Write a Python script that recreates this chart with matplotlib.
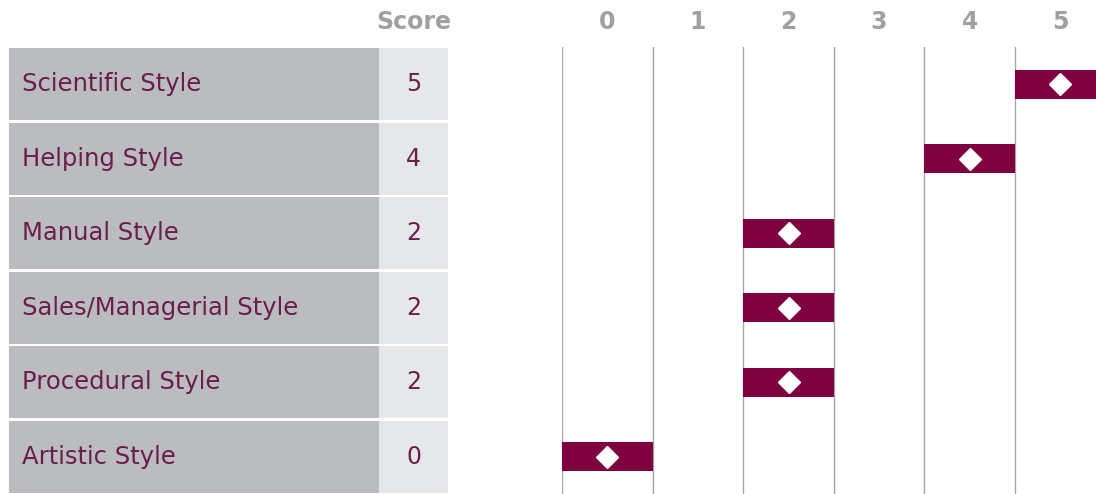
import matplotlib
matplotlib.use("Agg")
import matplotlib.pyplot as plt

styles = ["Scientific Style", "Helping Style", "Manual Style",
          "Sales/Managerial Style", "Procedural Style", "Artistic Style"]
scores = [5, 4, 2, 2, 2, 0]
scale_ticks = [0, 1, 2, 3, 4, 5]

bar_color = "#7f003f"
text_color = "#6b1d4b"
head_color = "#a0a0a2"

W, H = 1096, 494
fig = plt.figure(figsize=(W / 100, H / 100), dpi=100)
top = 47
row_px = (H - top) / len(styles)
rows = list(range(len(styles)))

# table part
tab = fig.add_axes([9 / W, 0, (448 - 9) / W, (H - top) / H])
tab.set_xlim(0, 439)
tab.set_ylim(len(styles) - 0.5, -0.5)
tab.axis("off")
tab.barh(rows, 370, left=0, height=0.97, color="#bbbcc0")
tab.barh(rows, 69, left=370, height=0.97, color="#e6e7e8")
for i, (name, s) in enumerate(zip(styles, scores)):
    tab.text(13, i, name, va="center", ha="left", fontsize=17.5, color=text_color)
    tab.text(404.5, i, str(s), va="center", ha="center", fontsize=17, color=text_color)
tab.text(404.5, -0.5 - 25 / row_px, "Score", ha="center", va="center",
         fontsize=17, fontweight="bold", color=head_color, clip_on=False)

# chart part
step = 90.6
ax = fig.add_axes([562 / W, 0, (W - 562) / W, (H - top) / H])
ax.set_xlim(0, (W - 562) / step)
ax.set_ylim(len(styles) - 0.5, -0.5)
for sp in ax.spines.values():
    sp.set_visible(False)
ax.set_yticks([])
for t in scale_ticks:
    ax.axvline(t, color="#a6a6a6", lw=1, zorder=1)
ax.barh(rows, 1, left=scores, height=0.39, color=bar_color, zorder=2)
ax.plot([s + 0.5 for s in scores], rows, "D", color="white",
        markersize=11, lw=0, zorder=3)
for t in scale_ticks:
    ax.text(t + 0.5, -0.5 - 25 / row_px, str(t), ha="center", va="center",
            fontsize=17, fontweight="bold", color=head_color, clip_on=False)
ax.set_xticks([])

fig.savefig("out.png", dpi=100)
